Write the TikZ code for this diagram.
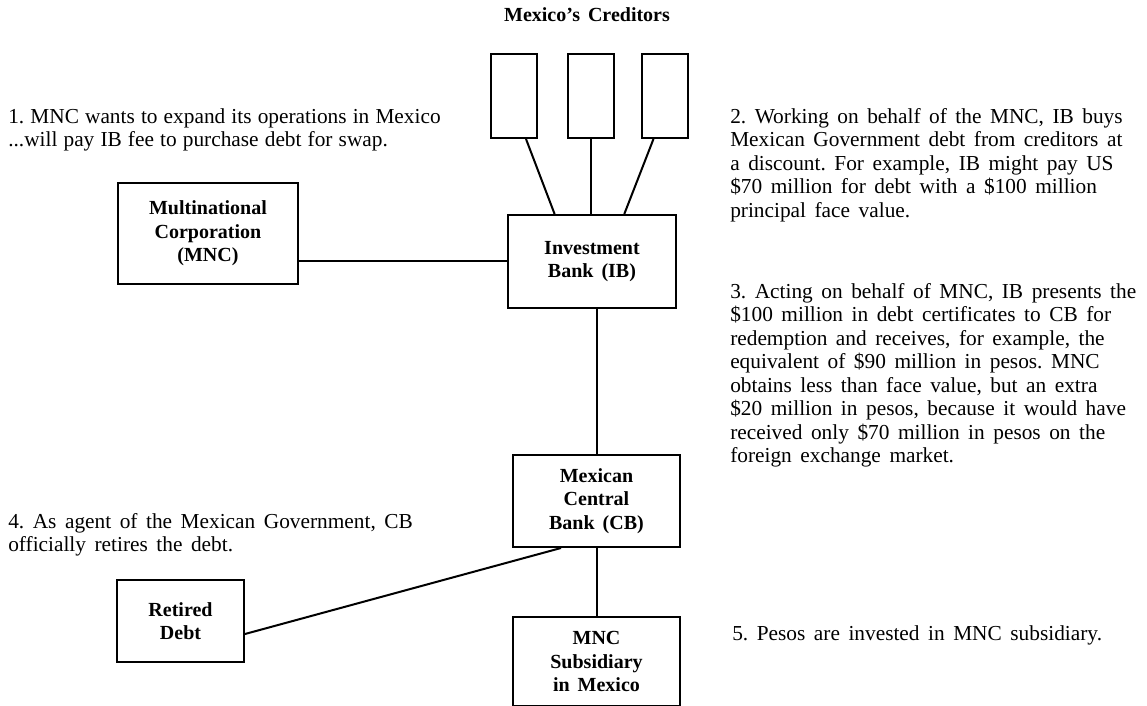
\documentclass[tikz,border=0pt]{standalone}
\usepackage{fontspec}
\setmainfont{Liberation Serif}[WordSpace=1.6]
\newfontfamily\narrowfont{Liberation Serif}[WordSpace=1.15]
\usetikzlibrary{positioning, calc}

\begin{document}
\frenchspacing
\begin{tikzpicture}[
    x=0.75pt, y=-0.75pt,
    box/.style={rectangle, draw=black, line width=1.5pt, fill=none, inner sep=0pt,
        text centered, align=center, text=black, font=\fontsize{15}{17.6}\selectfont\bfseries},
    creditor/.style={rectangle, draw=black, line width=1.5pt, fill=none,
        minimum width=34.5pt, minimum height=63pt},
    note/.style={rectangle, draw=none, fill=none, inner sep=0pt, anchor=north west,
        align=left, text=black, font=\fontsize{16}{17.6}\selectfont},
    link/.style={line width=1.5pt}
]
\useasboundingbox (0,0) rectangle (1147,706);

% creditors
\node (Title) [font=\fontsize{15}{17.6}\selectfont\bfseries] at (587,15) {Mexico's Creditors};
\node (Cred02) [creditor] at (591,96) {};
\node (Cred01) [creditor, left=21.75pt of Cred02] {};
\node (Cred03) [creditor, right=19.5pt of Cred02] {};

% main boxes
\node (IB) [box, minimum width=126pt, minimum height=69.75pt] at (592,261.5) {Investment\\Bank (IB)};
\node (MNC) [box, minimum width=135pt, minimum height=75.75pt] at (208,233.5) {Multinational\\Corporation\\(MNC)};
\node (CB) [box, minimum width=125.25pt, minimum height=69pt] at (596.5,501) {Mexican\\Central\\Bank (CB)};
\node (Sub) [box, minimum width=125.25pt, minimum height=66.75pt, below=51pt of CB] {MNC\\Subsidiary\\in Mexico};
\node (RD) [box, minimum width=95.25pt, minimum height=61.5pt] at (180.5,621) {Retired\\Debt};

% notes
\node (N01) [note, font=\fontsize{16}{17.6}\selectfont\narrowfont] at (8,108) {1. MNC wants to expand its operations in Mexico\\
    ...will pay IB fee to purchase debt for swap.};
\node (N02) [note] at (730,108) {2. Working on behalf of the MNC, IB buys\\
    Mexican Government debt from creditors at\\
    a discount. For example, IB might pay US\\
    \$70 million for debt with a \$100 million\\
    principal face value.};
\node (N03) [note] at (730,283) {3. Acting on behalf of MNC, IB presents the\\
    \$100 million in debt certificates to CB for\\
    redemption and receives, for example, the\\
    equivalent of \$90 million in pesos. MNC\\
    obtains less than face value, but an extra\\
    \$20 million in pesos, because it would have\\
    received only \$70 million in pesos on the\\
    foreign exchange market.};
\node (N04) [note] at (8,513) {4. As agent of the Mexican Government, CB\\
    officially retires the debt.};
\node (N05) [note] at (732,625) {5. Pesos are invested in MNC subsidiary.};

% connectors
\draw [link] ($(Cred01.south west)!0.75!(Cred01.south east)$) -- ($(IB.north west)!0.28!(IB.north east)$);
\draw [link] (Cred02.south) -- (Cred02.south |- IB.north);
\draw [link] ($(Cred03.south west)!0.26!(Cred03.south east)$) -- ($(IB.north west)!0.69!(IB.north east)$);
\draw [link] (MNC.east |- IB.west) -- (IB.west);
\draw [link] (CB.north) -- (CB.north |- IB.south);
\draw [link] (CB.south) -- (Sub.north);
\draw [link] ($(RD.east)+(0,13)$) -- ($(CB.south west)!0.29!(CB.south east)$);
\end{tikzpicture}
\end{document}
